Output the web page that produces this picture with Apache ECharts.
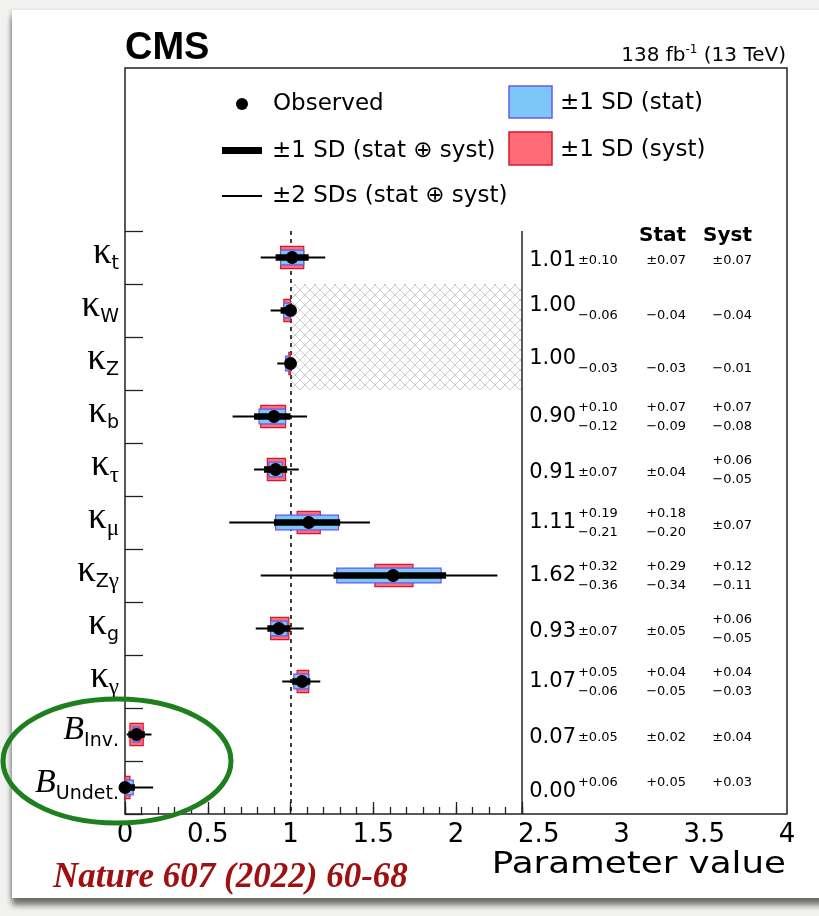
<!DOCTYPE html>
<html>
<head>
<meta charset="utf-8">
<script src="https://cdn.jsdelivr.net/npm/echarts@6/dist/echarts.min.js"></script>
<style>
html, body { margin: 0; padding: 0; width: 819px; height: 916px; overflow: hidden; background: #f2f2f0; }
#card { position: absolute; left: 12px; top: 10px; width: 840px; height: 888px; background: #fff;
  box-shadow: 0 7px 6px rgba(0,0,0,0.55), -2px 0 3px rgba(0,0,0,0.12); }
#chart { position: absolute; left: 0; top: 0; width: 819px; height: 916px; }
</style>
</head>
<body>
<div id="card"></div>
<div id="chart"></div>
<script>
// coupling modifiers, top row first
const categories = ['κ_t', 'κ_W', 'κ_Z', 'κ_b', 'κ_τ', 'κ_μ', 'κ_Zγ', 'κ_g', 'κ_γ', 'B_Inv.', 'B_Undet.']
const observed = [1.01, 1.00, 1.00, 0.90, 0.91, 1.11, 1.62, 0.93, 1.07, 0.07, 0.00]
// total (stat ⊕ syst) 1 SD
const totUp = [0.10, 0.00, 0.00, 0.10, 0.07, 0.19, 0.32, 0.07, 0.05, 0.05, 0.06]
const totDn = [0.10, 0.06, 0.03, 0.12, 0.07, 0.21, 0.36, 0.07, 0.06, 0.05, 0.00]
const statUp = [0.07, 0.00, 0.00, 0.07, 0.04, 0.18, 0.29, 0.05, 0.04, 0.02, 0.05]
const statDn = [0.07, 0.04, 0.03, 0.09, 0.04, 0.20, 0.34, 0.05, 0.05, 0.02, 0.00]
const systUp = [0.07, 0.00, 0.00, 0.07, 0.06, 0.07, 0.12, 0.06, 0.04, 0.04, 0.03]
const systDn = [0.07, 0.04, 0.01, 0.08, 0.05, 0.07, 0.11, 0.05, 0.03, 0.04, 0.00]
// 2 SD interval ends
const twoSdLo = [0.82, 0.88, 0.92, 0.65, 0.78, 0.63, 0.82, 0.79, 0.95, 0.01, 0.00]
const twoSdHi = [1.21, 1.00, 1.00, 1.10, 1.05, 1.48, 2.25, 1.08, 1.18, 0.16, 0.17]
// excluded region (κW, κZ <= 1)
const hatchRows = [1, 2]
const hatchRange = [1.0, 2.4]
const xTickLabels = ['0', '0.5', '1', '1.5', '2', '2.5', '3', '3.5', '4']

const SANS = 'DejaVu Sans'
const SERIF = 'Liberation Serif'
const unit = (819 - 125 - 32) / 4

const hatch = document.createElement('canvas')
hatch.width = 10
hatch.height = 10
const hc = hatch.getContext('2d')
hc.strokeStyle = '#cdcdcd'
hc.lineWidth = 1
hc.beginPath()
hc.moveTo(0, 0); hc.lineTo(10, 10)
hc.moveTo(10, 0); hc.lineTo(0, 10)
hc.stroke()

const pointData = observed.map((v, i) => [
  v, i, twoSdLo[i], twoSdHi[i],
  v - totDn[i], v + totUp[i],
  v - statDn[i], v + statUp[i],
  v - systDn[i], v + systUp[i]
])

const fmt = v => v.toFixed(2)
const errParts = (up, dn) => {
  if (up === dn) return { mid: '±' + fmt(up) }
  const o = {}
  if (up > 0) o.sup = '+' + fmt(up)
  if (dn > 0) o.sub = '−' + fmt(dn)
  return o
}
const txt = (x, y, s, size, align, bold) => ({
  type: 'text', x, y,
  style: {
    text: s, fill: '#000', fontSize: size, fontFamily: SANS, fontWeight: bold ? 'bold' : 'normal',
    align, textAlign: align, verticalAlign: 'middle', textVerticalAlign: 'middle'
  }
})
const pushErr = (kids, e, x, cy, align) => {
  if (e.mid) kids.push(txt(x, cy + 3, e.mid, 13, align))
  else if (e.sup && e.sub) {
    kids.push(txt(x, cy - 9, e.sup, 13, align))
    kids.push(txt(x, cy + 10, e.sub, 13, align))
  } else if (e.sup) kids.push(txt(x, cy - 5, e.sup, 13, align))
  else if (e.sub) kids.push(txt(x, cy + 5, e.sub, 13, align))
}

function renderPoint(params, api) {
  const row = api.value(1)
  const y = api.coord([0, row])[1]
  const band = api.size([0, 1])[1]
  const X = v => api.coord([v, row])[0]
  const rh = band * 0.21
  const bh = band * 0.14
  return {
    type: 'group',
    children: [
      { type: 'line', shape: { x1: X(api.value(2)), y1: y, x2: X(api.value(3)), y2: y },
        style: { stroke: '#000', lineWidth: 2 } },
      { type: 'rect', shape: { x: X(api.value(8)), y: y - rh, width: X(api.value(9)) - X(api.value(8)), height: 2 * rh },
        style: { fill: '#ff6b76', stroke: '#cf1b2d', lineWidth: 1.2 } },
      { type: 'rect', shape: { x: X(api.value(6)), y: y - bh, width: X(api.value(7)) - X(api.value(6)), height: 2 * bh },
        style: { fill: '#7cc6f8', stroke: '#6d55f0', lineWidth: 1.2 } },
      { type: 'rect', shape: { x: X(api.value(4)), y: y - 3.25, width: X(api.value(5)) - X(api.value(4)), height: 6.5 },
        style: { fill: '#000' } },
      { type: 'circle', shape: { cx: X(api.value(0)), cy: y, r: 6.5 }, style: { fill: '#000' } }
    ]
  }
}

function renderValues(params, api) {
  const i = params.dataIndex
  const cy = api.coord([0, i])[1]
  const X = v => api.coord([v, i])[0]
  const kids = []
  const tot = errParts(totUp[i], totDn[i])
  let dy = 3
  if (tot.sup && tot.sub) dy = 0
  else if (tot.sub) dy = -5
  else if (tot.sup) dy = 4
  kids.push(txt(X(2.725), cy + dy, fmt(observed[i]), 21, 'right'))
  pushErr(kids, tot, X(2.737), cy, 'left')
  pushErr(kids, errParts(statUp[i], statDn[i]), X(3.39), cy, 'right')
  pushErr(kids, errParts(systUp[i], systDn[i]), X(3.789), cy, 'right')
  return { type: 'group', children: kids }
}

const chart = echarts.init(document.getElementById('chart'))
chart.setOption({
  animation: false,
  grid: [
    { left: 125, right: 32, top: 68, bottom: 102, show: true, borderColor: '#222', borderWidth: 1.5,
      backgroundColor: 'transparent', outerBoundsMode: 'none' },
    { left: 125, width: 2.4 * unit, top: 231, bottom: 102, outerBoundsMode: 'none' }
  ],
  xAxis: [
    { gridIndex: 0, type: 'value', min: 0, max: 4, interval: 0.5, position: 'bottom',
      axisLine: { show: false }, axisTick: { show: false }, splitLine: { show: false },
      axisLabel: { color: '#000', fontFamily: SANS, fontSize: 26, margin: 8,
        formatter: v => xTickLabels[Math.round(v * 2)] } },
    { gridIndex: 1, type: 'value', min: 0, max: 2.4, interval: 0.1, position: 'bottom',
      axisLine: { show: false }, axisLabel: { show: false }, splitLine: { show: false },
      axisTick: { show: true, inside: true, length: 7, lineStyle: { color: '#222', width: 1.3 } } },
    { gridIndex: 1, type: 'value', min: 0, max: 2.4, interval: 0.5, position: 'bottom',
      axisLine: { show: false }, axisLabel: { show: false }, splitLine: { show: false },
      axisTick: { show: true, inside: true, length: 12, lineStyle: { color: '#222', width: 1.3 } } }
  ],
  yAxis: [
    { gridIndex: 0, type: 'value', min: 0, max: 1, show: false },
    { gridIndex: 1, type: 'category', inverse: true, data: categories, boundaryGap: true,
      axisLine: { show: false }, splitLine: { show: false },
      axisTick: { show: true, inside: true, length: 18, lineStyle: { color: '#222', width: 1.3 } },
      axisLabel: {
        margin: 6, color: '#000',
        formatter: v => {
          const [m, s] = v.split('_')
          const head = m === 'κ' ? '{k|κ}' : '{B|B}'
          return head + [...s].map(ch => /[α-ω]/.test(ch) ? '{g|' + ch + '}' : '{s|' + ch + '}').join('')
        },
        rich: {
          k: { fontFamily: SERIF, fontSize: 37, lineHeight: 30, padding: [0, 0, 8, 0], color: '#000' },
          B: { fontFamily: SERIF, fontStyle: 'italic', fontSize: 34, lineHeight: 30, padding: [0, 0, 8, 0], color: '#000' },
          s: { fontFamily: SANS, fontSize: 19, lineHeight: 19, padding: [14, 0, 0, 0], color: '#000' },
          g: { fontFamily: SERIF, fontSize: 23, lineHeight: 20, padding: [13, 0, 0, 0], color: '#000' }
        }
      } }
  ],
  series: [
    {
      type: 'custom', xAxisIndex: 1, yAxisIndex: 1, z: 1,
      data: [[hatchRange[0], hatchRows[0], hatchRange[1], hatchRows[1]]],
      renderItem: (params, api) => {
        const b = api.size([0, 1])[1]
        const p0 = api.coord([api.value(0), api.value(1)])
        const p1 = api.coord([api.value(2), api.value(3)])
        return { type: 'rect', shape: { x: p0[0], y: p0[1] - b / 2, width: p1[0] - p0[0], height: p1[1] - p0[1] + b },
          style: { fill: { image: hatch, repeat: 'repeat' } } }
      },
      markLine: {
        silent: true, symbol: 'none', label: { show: false },
        data: [
          { xAxis: 1, lineStyle: { color: '#000', width: 1.5, type: [4, 4] } },
          { xAxis: 2.4, lineStyle: { color: '#222', width: 1.5, type: 'solid' } }
        ]
      }
    },
    { type: 'custom', xAxisIndex: 1, yAxisIndex: 1, z: 5, clip: false, data: pointData, renderItem: renderPoint },
    { type: 'custom', xAxisIndex: 1, yAxisIndex: 1, z: 5, clip: false,
      data: categories.map((c, i) => [2.4, i]), renderItem: renderValues }
  ],
  graphic: [
    { type: 'text', x: 125, y: 49, style: { text: 'CMS', fill: '#000', fontFamily: 'Liberation Sans', fontWeight: 'bold', fontSize: 38,
      align: 'left', textAlign: 'left', verticalAlign: 'middle', textVerticalAlign: 'middle' } },
    { type: 'text', x: 786, y: 55, style: {
      text: '{a|138 fb}{s|-1}{a| (13 TeV)}', align: 'right', textAlign: 'right', verticalAlign: 'middle', textVerticalAlign: 'middle',
      rich: { a: { fontFamily: SANS, fontSize: 20, lineHeight: 22, verticalAlign: 'bottom', color: '#000' },
              s: { fontFamily: SANS, fontSize: 12, lineHeight: 12, verticalAlign: 'top', color: '#000' } } } },
    { type: 'circle', shape: { cx: 242, cy: 104, r: 6 }, style: { fill: '#000' } },
    txt(273, 104, 'Observed', 23, 'left'),
    { type: 'rect', shape: { x: 222, y: 147, width: 40, height: 7 }, style: { fill: '#000' } },
    txt(272, 151, '±1 SD (stat ⊕ syst)', 23, 'left'),
    { type: 'line', shape: { x1: 222, y1: 196, x2: 262, y2: 196 }, style: { stroke: '#000', lineWidth: 2 } },
    txt(272, 196, '±2 SDs (stat ⊕ syst)', 23, 'left'),
    { type: 'rect', shape: { x: 509, y: 86, width: 43, height: 32 }, style: { fill: '#7cc6f8', stroke: '#6d55f0', lineWidth: 1.5 } },
    txt(560, 103, '±1 SD (stat)', 23, 'left'),
    { type: 'rect', shape: { x: 509, y: 132, width: 43, height: 33 }, style: { fill: '#ff6b76', stroke: '#cf1b2d', lineWidth: 1.5 } },
    txt(560, 150, '±1 SD (syst)', 23, 'left'),
    txt(686, 236, 'Stat', 20, 'right', true),
    txt(752, 236, 'Syst', 20, 'right', true),
    { type: 'text', x: 786, y: 865, scaleX: 1.15, style: { text: 'Parameter value', fill: '#000', fontFamily: SANS, fontSize: 31,
      align: 'right', textAlign: 'right', verticalAlign: 'middle', textVerticalAlign: 'middle' } },
    { type: 'text', x: 53, y: 878, style: { text: 'Nature 607 (2022) 60-68', fill: '#a01010', fontFamily: SERIF,
      fontWeight: 'bold', fontStyle: 'italic', fontSize: 35, align: 'left', textAlign: 'left', verticalAlign: 'middle', textVerticalAlign: 'middle' } },
    { type: 'ellipse', z: 100, shape: { cx: 117, cy: 761, rx: 114, ry: 62 }, style: { fill: 'none', stroke: '#1d7f1d', lineWidth: 5 } }
  ]
})
</script>
</body>
</html>
